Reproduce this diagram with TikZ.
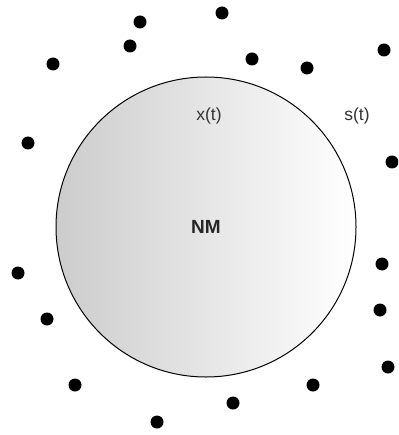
\documentclass[tikz,border=0pt]{standalone}
\usepackage{fontspec}
\setmainfont{Liberation Sans}
\begin{document}
\begin{tikzpicture}[x=1pt,y=-1pt,
  dot/.style={circle,fill=black,inner sep=0pt,minimum size=13pt},
  lbl/.style={font=\fontsize{17.5}{19}\selectfont,text=black!80,inner sep=0pt}]
\useasboundingbox (0,0) rectangle (398,435);
\begin{scope}
\clip (0,0) rectangle (398,435);
\node[circle,draw=black,line width=1pt,left color=black!20,right color=white,
      minimum size=300pt,inner sep=0pt,font=\fontsize{19}{21}\selectfont\bfseries,text=black!85]
      (nm) at (206,227) {NM};
\node[lbl] (x) at (209,116) {x(t)};
\node[lbl] (s) at (357,116) {s(t)};
\node[dot] (d1) at (140,22) {};
\node[dot] (d2) at (222,13) {};
\node[dot] (d3) at (130,46) {};
\node[dot] (d4) at (53,64) {};
\node[dot] (d5) at (252,59) {};
\node[dot] (d6) at (307,68) {};
\node[dot] (d7) at (384,50) {};
\node[dot] (d8) at (28,143) {};
\node[dot] (d9) at (392,162) {};
\node[dot] (d10) at (18,273) {};
\node[dot] (d11) at (47,319) {};
\node[dot] (d12) at (382,264) {};
\node[dot] (d13) at (380,310) {};
\node[dot] (d14) at (388,367) {};
\node[dot] (d15) at (75,385) {};
\node[dot] (d16) at (313,385) {};
\node[dot] (d17) at (233,403) {};
\node[dot] (d18) at (157,422) {};
\end{scope}
\end{tikzpicture}
\end{document}
